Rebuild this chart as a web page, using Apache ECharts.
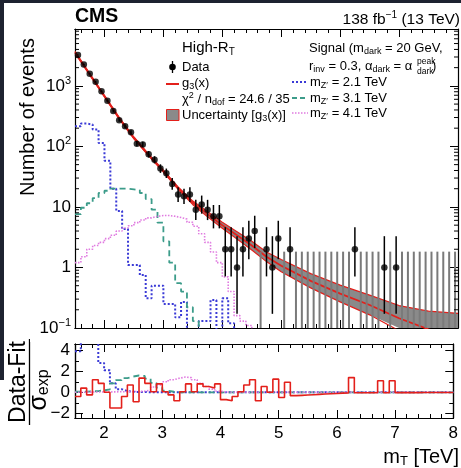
<!DOCTYPE html>
<html>
<head>
<meta charset="utf-8">
<script src="https://cdn.jsdelivr.net/npm/echarts@6.0.0/dist/echarts.min.js"></script>
<style>
html, body { margin: 0; padding: 0; background: #fff; }
#chart { width: 461px; height: 468px; }
</style>
</head>
<body>
<div id="chart"></div>
<script>
// 0.1 TeV bins from 1.5 to 8.0 TeV
var binLow = 1.5;
var binWidth = 0.1;

// observed events per bin
var dataCounts = [
	3250, 2265, 1585, 1166, 815, 569, 383, 271, 215, 171,
	111, 108, 74, 60, 43, 36, 24, 16, 15, 16,
	9, 11, 9, 7, 7, 2, 2, 1, 2, 3,
	4, 0, 2, 1, 3, 0, 2, 0, 0, 0,
	0, 0, 0, 0, 0, 0, 0, 2, 0, 0,
	0, 0, 1, 0, 1, 0, 0, 0, 0, 0,
	0, 0, 0, 0, 0
];

// fit g3(x) and its uncertainty band
var fitX = [1.5, 1.75, 2, 2.25, 2.5, 2.75, 3, 3.25, 3.5, 3.75, 4, 4.25, 4.5, 4.75, 5, 5.5, 6, 6.5, 7, 7.5, 8];
var fitCentral = [3600, 1550, 676, 292, 138, 72, 39, 20.5, 11.7, 7.6, 5.0, 3.4, 2.3, 1.5, 1.07, 0.60, 0.37, 0.24, 0.145, 0.095, 0.07];
var fitUp = [3720, 1600, 698, 302, 143, 74.5, 40.5, 21.5, 12.5, 8.3, 5.6, 3.9, 2.7, 1.8, 1.35, 0.79, 0.51, 0.35, 0.235, 0.19, 0.175];
var fitDown = [3480, 1500, 655, 282, 133, 69.5, 37.5, 19.5, 10.9, 6.9, 4.45, 2.95, 1.95, 1.25, 0.85, 0.46, 0.27, 0.165, 0.09, 0.05, 0.03];

// signal shapes (events per bin)
var sigZ21 = [
	215, 238, 230, 190, 114, 58, 20, 8.6, 4.3, 1.1,
	1.1, 0.75, 0.31, 0.5, 0.5, 0.25, 0.25, 0.15, 0.27, 0.05,
	0.05, 0.13, 0.13, 0.29, 0.05, 0.31, 0.12, 0.05, 0.05, 0.05,
	0.05, 0.05, 0.05, 0.05, 0.05, 0.05, 0.05, 0.05, 0.05, 0.05,
	0.05, 0.05, 0.05, 0.05, 0.05, 0.05, 0.05, 0.05, 0.05, 0.05,
	0.05, 0.05, 0.05, 0.05, 0.05, 0.05, 0.05, 0.05, 0.05, 0.05,
	0.05, 0.05, 0.05, 0.05, 0.05
];
var sigZ31 = [
	7.6, 9.7, 11.5, 14, 17, 18.5, 20, 20, 20, 19.5,
	19, 17, 13.5, 9, 5.5, 2.7, 1.2, 0.55, 0.4, 0.22,
	0.13, 0.05, 0.05, 0.05, 0.05, 0.05, 0.05, 0.05, 0.05, 0.05,
	0.05, 0.05, 0.05, 0.05, 0.05, 0.05, 0.05, 0.05, 0.05, 0.05,
	0.05, 0.05, 0.05, 0.05, 0.05, 0.05, 0.05, 0.05, 0.05, 0.05,
	0.05, 0.05, 0.05, 0.05, 0.05, 0.05, 0.05, 0.05, 0.05, 0.05,
	0.05, 0.05, 0.05, 0.05, 0.05
];
var sigZ41 = [
	1.2, 1.5, 2.0, 2.3, 2.6, 3.0, 3.4, 4.0, 4.5, 4.9,
	5.5, 6.1, 6.6, 7.0, 7.2, 7.2, 7.0, 6.7, 6.3, 5.6,
	4.8, 3.6, 2.6, 1.8, 1.2, 0.7, 0.4, 0.16, 0.13, 0.11,
	0.05, 0.05, 0.05, 0.05, 0.05, 0.05, 0.05, 0.05, 0.05, 0.05,
	0.05, 0.05, 0.05, 0.05, 0.05, 0.05, 0.05, 0.05, 0.05, 0.05,
	0.05, 0.05, 0.05, 0.05, 0.05, 0.05, 0.05, 0.05, 0.05, 0.05,
	0.05, 0.05, 0.05, 0.05, 0.05
];

// lower pad: (data - fit) / sigma_exp and signal / sigma_exp
var pullData = [
	-0.4, 0.4, -0.25, 1.2, 0.85, 0.0, -1.5, -1.5, -0.4, 0.7,
	-0.9, 1.35, 0.85, 0.05, 0.8, 0.05, -0.25, -0.8, 0.05, 0.8,
	0.05, 0.8, 0.55, 0.4, 0.8, -0.7, -0.8, -0.4, 0.05, 0.7,
	1.2, -0.8, 0.55, 0.0, 1.25, -0.5, 0.95, -0.32, -0.29, -0.26,
	-0.23, -0.2, -0.17, -0.14, -0.11, -0.08, -0.06, 1.4, -0.05, -0.05,
	-0.04, -0.04, 1.1, -0.04, 1.1, -0.03, -0.03, -0.03, -0.03, -0.02,
	-0.02, -0.02, -0.02, -0.02, -0.02
];
var pullZ21 = [
	3.9, 6, 6, 6, 2.8, 2.1, 0.85, 0.3, 0.12, 0.05,
	0.03, 0.02, 0.01, 0, 0, 0, 0, 0, 0, 0,
	0, 0, 0, 0, 0, 0, 0, 0, 0, 0,
	0, 0, 0, 0, 0, 0, 0, 0, 0, 0,
	0, 0, 0, 0, 0, 0, 0, 0, 0, 0,
	0, 0, 0, 0, 0, 0, 0, 0, 0, 0,
	0, 0, 0, 0, 0
];
var pullZ31 = [
	0.05, 0.06, 0.08, 0.12, 0.18, 0.28, 0.85, 1.15, 1.35, 1.5,
	1.6, 1.55, 1.3, 0.9, 0.45, 0.15, 0.05, 0, 0, 0,
	0, 0, 0, 0, 0, 0, 0, 0, 0, 0,
	0, 0, 0, 0, 0, 0, 0, 0, 0, 0,
	0, 0, 0, 0, 0, 0, 0, 0, 0, 0,
	0, 0, 0, 0, 0, 0, 0, 0, 0, 0,
	0, 0, 0, 0, 0
];
var pullZ41 = [
	0.01, 0.01, 0.02, 0.02, 0.03, 0.03, 0.04, 0.05, 0.06, 0.07,
	0.08, 0.1, 0.2, 0.5, 0.7, 1.0, 1.2, 1.35, 1.45, 1.4,
	1.2, 0.85, 0.55, 0.3, 0.1, 0.03, 0, 0, 0, 0,
	0, 0, 0, 0, 0, 0, 0, 0, 0, 0,
	0, 0, 0, 0, 0, 0, 0, 0, 0, 0,
	0, 0, 0, 0, 0, 0, 0, 0, 0, 0,
	0, 0, 0, 0, 0
];

// axis ticks
var xTickLabels = [2, 3, 4, 5, 6, 7, 8];
var pullTickLabels = [-2, 0, 2, 4];
var pullMinorTicks = [-1, 1, 3];

var FONT = '"Liberation Sans", Arial, Helvetica, sans-serif';
var RED = '#e3201b';
var BLUE = '#3a3ad6';
var TEAL = '#3c9c8a';
var PINK = '#e07ae0';

var xMinorTicks = [];
for (var t = 16; t < 80; t += 2) {
	if (t % 10 !== 0) xMinorTicks.push(t / 10);
}
var logMinorTicks = [];
[0.1, 1, 10, 100, 1000].forEach(function (d) {
	for (var k = 2; k <= 9; k++) {
		if (d * k < 8700) logMinorTicks.push(+(d * k).toPrecision(3));
	}
});

function centre(i) { return +(binLow + binWidth * (i + 0.5)).toFixed(2); }
function edge(i) { return +(binLow + binWidth * i).toFixed(2); }

// histogram outline: points at left edges, step at the end of each bin
function stepData(vals) {
	var out = vals.map(function (v, i) { return [edge(i), v]; });
	out.push([edge(vals.length), vals[vals.length - 1]]);
	return out;
}

// approximate Garwood interval for a Poisson count
function garwood(n) {
	var lo = n === 0 ? 0 : n * Math.pow(1 - 1 / (9 * n) - 1 / (3 * Math.sqrt(n)), 3);
	var m = n + 1;
	var hi = m * Math.pow(1 - 1 / (9 * m) + 1 / (3 * Math.sqrt(m)), 3);
	return [lo, hi];
}

function xAxisDef(grid, pos, ticks, len, withLabels) {
	return {
		type: 'value', gridIndex: grid, position: pos, min: 1.5, max: 8,
		axisLine: { show: true, onZero: false, lineStyle: { color: '#000', width: 1.2 } },
		axisTick: { show: true, inside: true, length: len, customValues: ticks, lineStyle: { color: '#000', width: 1 } },
		axisLabel: withLabels ? {
			show: true, customValues: xTickLabels, margin: 7,
			fontSize: 17, fontFamily: FONT, color: '#000'
		} : { show: false },
		splitLine: { show: false }
	};
}

function pullAxisDef(pos, ticks, len, withLabels) {
	return {
		type: 'value', gridIndex: 1, position: pos, min: -2.45, max: 4.6,
		axisLine: { show: true, onZero: false, lineStyle: { color: '#000', width: 1.2 } },
		axisTick: { show: true, inside: true, length: len, customValues: ticks, lineStyle: { color: '#000', width: 1 } },
		axisLabel: withLabels ? {
			show: true, customValues: pullTickLabels, margin: 5,
			fontSize: 17, fontFamily: FONT, color: '#000',
			formatter: function (v) { return String(v).replace('-', '\u2212'); }
		} : { show: false },
		splitLine: { show: false }
	};
}

function logAxisDef(pos, withLabels) {
	return {
		type: 'log', logBase: 10, gridIndex: 0, position: pos, min: 0.1, max: 8700,
		axisLine: { show: true, onZero: false, lineStyle: { color: '#000', width: 1.2 } },
		axisTick: { show: true, inside: true, length: 8, lineStyle: { color: '#000', width: 1 } },
		axisLabel: withLabels ? {
			show: true, margin: 4, color: '#000',
			formatter: function (v) {
				var l = Math.log10(v);
				var e = Math.round(l);
				if (Math.abs(l - e) > 1e-6) return '';
				if (e === 0) return '{b|1}';
				if (e === 1) return '{b|10}';
				return '{b|10}{sup|' + (e < 0 ? '\u2212' : '') + Math.abs(e) + '}';
			},
			rich: {
				b: { fontSize: 17, fontFamily: FONT, color: '#000' },
				sup: { fontSize: 11, fontFamily: FONT, color: '#000', padding: [0, 0, 10, 0] }
			}
		} : { show: false },
		splitLine: { show: false }
	};
}

var rich = {
	n: { fontSize: 13, fontFamily: FONT, fill: '#000' },
	h: { fontSize: 15, fontFamily: FONT, fill: '#000' },
	hs: { fontSize: 10, fontFamily: FONT, fill: '#000', padding: [8, 0, 0, 0] },
	sub: { fontSize: 9, fontFamily: FONT, fill: '#000', padding: [7, 0, 0, 0] },
	sup: { fontSize: 9, fontFamily: FONT, fill: '#000', padding: [0, 0, 7, 0] },
	big: { fontSize: 15.5, fontFamily: FONT, fill: '#000' },
	bigsup: { fontSize: 10, fontFamily: FONT, fill: '#000', padding: [0, 0, 9, 0] },
	xt: { fontSize: 20, fontFamily: FONT, fill: '#000' },
	xts: { fontSize: 13, fontFamily: FONT, fill: '#000', padding: [9, 0, 0, 0] },
	sg: { fontSize: 25, fontFamily: FONT, fill: '#000' },
	sgs: { fontSize: 16, fontFamily: FONT, fill: '#000', padding: [10, 0, 0, 0] }
};

function label(x, y, text, opts) {
	opts = opts || {};
	return {
		type: 'text', x: x, y: y, rotation: opts.rotation || 0, z: 100,
		style: {
			text: text, rich: rich, fill: '#000',
			font: opts.font || ('13px ' + FONT),
			align: opts.align || 'left', verticalAlign: 'middle'
		}
	};
}

function seg(x1, y1, x2, y2, color, width, dash) {
	return {
		type: 'line', z: 100,
		shape: { x1: x1, y1: y1, x2: x2, y2: y2 },
		style: { stroke: color, lineWidth: width, lineDash: dash || null }
	};
}

var chart = echarts.init(document.getElementById('chart'));

var option = {
	animation: false,
	backgroundColor: '#fff',
	grid: [
		{ left: 75, top: 29, width: 383, height: 299 },
		{ left: 75, top: 344, width: 383, height: 74 }
	],
	xAxis: [
		xAxisDef(0, 'bottom', xTickLabels, 8, false),
		xAxisDef(0, 'bottom', xMinorTicks, 4, false),
		xAxisDef(0, 'top', xTickLabels, 8, false),
		xAxisDef(0, 'top', xMinorTicks, 4, false),
		xAxisDef(1, 'bottom', xTickLabels, 8, true),
		xAxisDef(1, 'bottom', xMinorTicks, 4, false),
		xAxisDef(1, 'top', xTickLabels, 8, false),
		xAxisDef(1, 'top', xMinorTicks, 4, false)
	],
	yAxis: [
		logAxisDef('left', true),
		logAxisDef('right', false),
		pullAxisDef('left', pullTickLabels, 8, true),
		pullAxisDef('left', pullMinorTicks, 4, false),
		pullAxisDef('right', pullTickLabels, 8, false),
		pullAxisDef('right', pullMinorTicks, 4, false)
	],
	series: [
		{
			type: 'line', xAxisIndex: 0, yAxisIndex: 0, step: 'end', showSymbol: false, z: 2,
			data: stepData(sigZ21),
			lineStyle: { color: BLUE, width: 2, type: [2, 2] }
		},
		{
			type: 'line', xAxisIndex: 0, yAxisIndex: 0, step: 'end', showSymbol: false, z: 2,
			data: stepData(sigZ31),
			lineStyle: { color: TEAL, width: 1.8, type: [6, 4] }
		},
		{
			type: 'line', xAxisIndex: 0, yAxisIndex: 0, step: 'end', showSymbol: false, z: 2,
			data: stepData(sigZ41),
			lineStyle: { color: PINK, width: 1.6, type: [1.5, 1.5] }
		},
		{
			// uncertainty band
			type: 'custom', xAxisIndex: 0, yAxisIndex: 0, z: 3, silent: true,
			data: [[1.5, 1]],
			renderItem: function (params, api) {
				var cs = params.coordSys;
				var bottom = cs.y + cs.height;
				var pts = [];
				fitX.forEach(function (x, i) { pts.push(api.coord([x, fitUp[i]])); });
				for (var i = fitX.length - 1; i >= 0; i--) {
					var p = api.coord([fitX[i], fitDown[i]]);
					pts.push([p[0], Math.min(p[1], bottom)]);
				}
				return { type: 'polygon', shape: { points: pts }, style: { fill: '#8a8a8a' } };
			}
		},
		{
			type: 'line', xAxisIndex: 0, yAxisIndex: 0, showSymbol: false, z: 4,
			data: fitX.map(function (x, i) { return [x, fitUp[i]]; }),
			lineStyle: { color: RED, width: 1.2 }
		},
		{
			type: 'line', xAxisIndex: 0, yAxisIndex: 0, showSymbol: false, z: 4,
			data: fitX.map(function (x, i) { return [x, fitDown[i]]; }),
			lineStyle: { color: RED, width: 1.2 }
		},
		{
			type: 'line', xAxisIndex: 0, yAxisIndex: 0, showSymbol: false, z: 4,
			data: fitX.map(function (x, i) { return [x, fitCentral[i]]; }),
			lineStyle: { color: RED, width: 1.8 }
		},
		{
			// Poisson error bars
			type: 'custom', xAxisIndex: 0, yAxisIndex: 0, z: 5, silent: true,
			data: dataCounts.map(function (n, i) {
				var g = garwood(n);
				return [centre(i), g[1], g[0], n];
			}),
			encode: { x: 0, y: 1 },
			renderItem: function (params, api) {
				var cs = params.coordSys;
				var x = api.value(0), hi = api.value(1), lo = api.value(2), n = api.value(3);
				var top = api.coord([x, hi]);
				var yb = lo > 0 ? api.coord([x, lo])[1] : cs.y + cs.height;
				return {
					type: 'line',
					shape: { x1: top[0], y1: Math.max(top[1], cs.y), x2: top[0], y2: Math.min(yb, cs.y + cs.height) },
					style: { stroke: n === 0 ? '#7a7a7a' : '#000', lineWidth: n === 0 ? 2 : 1.5 }
				};
			}
		},
		{
			type: 'scatter', xAxisIndex: 0, yAxisIndex: 0, z: 6, symbol: 'circle', symbolSize: 6.5,
			data: dataCounts.map(function (n, i) { return [centre(i), n]; }).filter(function (d) { return d[1] > 0; }),
			itemStyle: { color: '#000' }
		},
		{
			// minor ticks of the log axis (left and right)
			type: 'custom', xAxisIndex: 0, yAxisIndex: 0, z: 10, silent: true,
			data: logMinorTicks.map(function (v) { return [1.5, v]; }),
			renderItem: function (params, api) {
				var cs = params.coordSys;
				var y = api.coord([api.value(0), api.value(1)])[1];
				return {
					type: 'group', children: [
						{ type: 'line', shape: { x1: cs.x, y1: y, x2: cs.x + 4, y2: y }, style: { stroke: '#000', lineWidth: 1 } },
						{ type: 'line', shape: { x1: cs.x + cs.width - 4, y1: y, x2: cs.x + cs.width, y2: y }, style: { stroke: '#000', lineWidth: 1 } }
					]
				};
			}
		},
		// lower pad
		{
			type: 'line', xAxisIndex: 4, yAxisIndex: 2, step: 'end', showSymbol: false, z: 2,
			data: stepData(pullZ21),
			lineStyle: { color: BLUE, width: 2, type: [2, 2] }
		},
		{
			type: 'line', xAxisIndex: 4, yAxisIndex: 2, step: 'end', showSymbol: false, z: 2,
			data: stepData(pullZ31),
			lineStyle: { color: TEAL, width: 1.8, type: [6, 4] }
		},
		{
			type: 'line', xAxisIndex: 4, yAxisIndex: 2, step: 'end', showSymbol: false, z: 2,
			data: stepData(pullZ41),
			lineStyle: { color: PINK, width: 1.6, type: [1.5, 1.5] }
		},
		{
			type: 'line', xAxisIndex: 4, yAxisIndex: 2, step: 'end', showSymbol: false, z: 4,
			data: stepData(pullData),
			lineStyle: { color: RED, width: 1.6 }
		}
	],
	graphic: [
		// page frame
		{ type: 'rect', z: 200, shape: { x: 0, y: 0, width: 461, height: 3 }, style: { fill: '#1d2230' } },
		{ type: 'rect', z: 200, shape: { x: 0, y: 0, width: 4, height: 380 }, style: { fill: '#1d2230' } },
		// lower pad hides the bottom of the 10^-1 label
		{ type: 'rect', z: 150, shape: { x: 30, y: 335, width: 44, height: 7 }, style: { fill: '#fff' } },

		label(75, 17, 'CMS', { font: 'bold 19.5px ' + FONT }),
		label(460, 20, '{big|138 fb}{bigsup|\u22121}{big| (13 TeV)}', { align: 'right' }),
		label(28, 117, 'Number of events', { font: '20px ' + FONT, align: 'center', rotation: Math.PI / 2 }),
		label(19, 382, 'Data-Fit', { font: '23px ' + FONT, align: 'center', rotation: Math.PI / 2 }),
		seg(29.5, 339, 29.5, 425, '#000', 1.3),
		label(39, 390, '{sg|\u03c3}{sgs|exp}', { align: 'center', rotation: Math.PI / 2 }),
		label(459, 457, '{xt|m}{xts|T}{xt| [TeV]}', { align: 'right' }),

		// left legend
		label(182, 48, '{h|High-R}{hs|T}'),
		seg(172.5, 61, 172.5, 73, '#000', 1.3),
		{ type: 'circle', z: 100, shape: { cx: 172.5, cy: 67, r: 3.3 }, style: { fill: '#000' } },
		label(182, 67, '{n|Data}'),
		seg(166, 84, 179, 84, RED, 2),
		label(182, 83.5, '{n|g}{sub|3}{n|(x)}'),
		label(182, 99.5, '{n|\u03c7}{sup|2}{n| / n}{sub|dof}{n| = 24.6 / 35}'),
		{ type: 'rect', z: 100, shape: { x: 166.5, y: 109.5, width: 12.5, height: 11 }, style: { fill: '#8a8a8a', stroke: RED, lineWidth: 1 } },
		label(182, 115, '{n|Uncertainty [g}{sub|3}{n|(x)]}'),

		// right legend
		label(309, 48, '{n|Signal (m}{sub|dark}{n| = 20 GeV,}'),
		label(309, 66, '{n|r}{sub|inv}{n| = 0.3, \u03b1}{sub|dark}{n| = \u03b1}'),
		label(417, 62, 'peak', { font: '8.5px ' + FONT }),
		label(417, 71.5, 'dark', { font: '8.5px ' + FONT }),
		label(432, 66, ')', { font: '13px ' + FONT }),
		seg(292, 82, 308, 82, BLUE, 2, [2, 2]),
		label(310, 82, '{n|m}{sub|Z\u2032}{n| = 2.1 TeV}'),
		seg(292, 98, 308, 98, TEAL, 1.8, [5, 3]),
		label(310, 98, '{n|m}{sub|Z\u2032}{n| = 3.1 TeV}'),
		seg(292, 113, 308, 113, PINK, 1.6, [1.5, 1.5]),
		label(310, 113, '{n|m}{sub|Z\u2032}{n| = 4.1 TeV}')
	]
};

chart.setOption(option);
</script>
</body>
</html>
